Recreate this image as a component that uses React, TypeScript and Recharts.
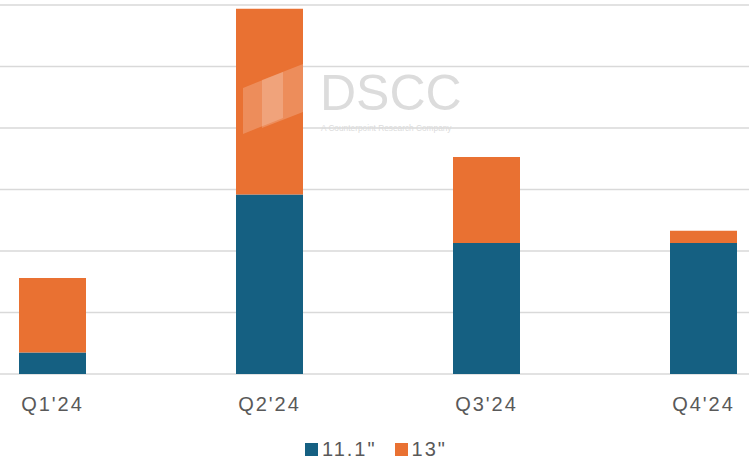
import React from "react";
import { BarChart, Bar, XAxis, YAxis, CartesianGrid, Legend } from "recharts";

const quarters = ["Q1'24", "Q2'24", "Q3'24", "Q4'24"];
const size111 = [0.35, 2.92, 2.13, 2.13];
const size13 = [1.21, 3.02, 1.40, 0.20];
const yTicks = [0, 1, 2, 3, 4, 5, 6];
const seriesNames = ['11.1"', '13"'];
const colors = ["#156082", "#E97132"];

const data = quarters.map((q, i) => ({ q, a: size111[i], b: size13[i] }));

const FONT = "'Liberation Sans', Arial, Helvetica, sans-serif";
const OFFSET = 56;

const LegendContent = () => (
  <div style={{ display: "flex", alignItems: "center", fontFamily: FONT, fontSize: 20, color: "#595959", letterSpacing: 2 }}>
    {seriesNames.map((n, i) => (
      <div key={n} style={{ display: "flex", alignItems: "center", marginRight: i === 0 ? 18 : 0 }}>
        <span style={{ display: "inline-block", width: 13, height: 13, background: colors[i], marginRight: 4 }} />
        <span>{n}</span>
      </div>
    ))}
  </div>
);

export default function App() {
  return (
    <div style={{ position: "fixed", left: 0, top: 0, width: 749, height: 464, overflow: "hidden", background: "#fff" }}>
      <div style={{ position: "absolute", left: -OFFSET, top: 0 }}>
        <BarChart width={868} height={464} data={data} margin={{ top: 5, right: 0, bottom: 50, left: 0 }} barCategoryGap={0}>
          <CartesianGrid horizontal vertical={false} stroke="#d9d9d9" strokeWidth={1.5} />
          <XAxis
            dataKey="q"
            axisLine={false}
            tickLine={false}
            tickMargin={17}
            height={40}
            tick={{ fill: "#595959", fontSize: 20, fontFamily: FONT, letterSpacing: 2 }}
          />
          <YAxis hide domain={[0, 6]} ticks={yTicks} />
          <Legend
            layout="vertical"
            align="center"
            verticalAlign="middle"
            content={<LegendContent />}
            wrapperStyle={{ position: "absolute", left: OFFSET + 305, top: 438, width: "auto" }}
          />
          <Bar dataKey="a" name={seriesNames[0]} stackId="s" fill={colors[0]} barSize={67} isAnimationActive={false} />
          <Bar dataKey="b" name={seriesNames[1]} stackId="s" fill={colors[1]} barSize={67} isAnimationActive={false} />
        </BarChart>
      </div>
      <svg width={749} height={464} style={{ position: "absolute", left: 0, top: 0, pointerEvents: "none" }}>
        <polygon points="243,88 283,72 283,118 243,134" fill="#ffffff" fillOpacity={0.2} />
        <polygon points="262,80 303,64 303,112 262,128" fill="#ffffff" fillOpacity={0.2} />
        <text x={320} y={110} fontFamily={FONT} fontSize={50} fill="#dcdcdc">DSCC</text>
        <text x={321} y={131} fontFamily={FONT} fontSize={8.3} fill="#dcdcdc">A Counterpoint Research Company</text>
      </svg>
    </div>
  );
}
